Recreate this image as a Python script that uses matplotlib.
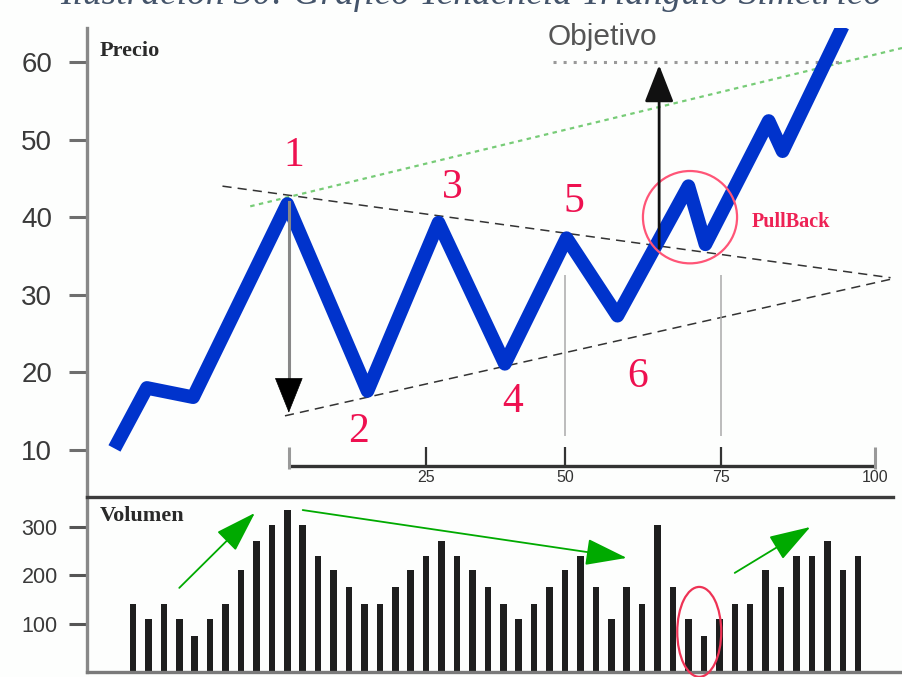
import matplotlib.pyplot as plt
from matplotlib.patches import Ellipse

# precio: sesion (mismas unidades que las barras de volumen) y valor
price_t = [-0.2, 1.9, 4.9, 11.0, 16.2, 20.8, 25.1, 29.1, 32.4, 37.0, 38.1, 42.2, 43.1, 47.0]
price = [10.2, 18.0, 16.8, 41.7, 17.6, 39.3, 21.1, 37.3, 27.3, 44.0, 36.5, 52.4, 48.5, 64.6]

# volumen por sesion
volume = [140, 110, 140, 110, 75, 110, 140, 210, 270, 305, 335, 305, 240, 210, 175,
          140, 140, 175, 210, 240, 270, 240, 210, 175, 140, 110, 140, 175, 210, 240,
          175, 110, 175, 140, 305, 175, 110, 75, 110, 140, 140, 210, 175, 240, 240,
          270, 210, 240]
sessions = list(range(1, len(volume) + 1))

price_ticks = [10, 20, 30, 40, 50, 60]
volume_ticks = [100, 200, 300]
inner_ticks = [20.0, 29.0, 39.1, 49.1]
inner_labels = ['25', '50', '75', '100']

# puntos numerados del triangulo
point_labels = ['1', '2', '3', '4', '5', '6']
point_t = [11.4, 15.6, 21.7, 25.6, 29.6, 33.7]
point_p = [47.9, 12.3, 43.8, 16.2, 42.0, 19.4]

sans = ['Liberation Sans', 'DejaVu Sans']
serif = ['Liberation Serif', 'DejaVu Serif']
red = '#ee1150'

W, H = 902, 677
fig = plt.figure(figsize=(W / 100, H / 100), dpi=100)
fig.patch.set_facecolor('#fdfefd')

ax = fig.add_axes([87 / W, 1 - 497 / H, 815 / W, 469 / H])
axv = fig.add_axes([87 / W, 5 / H, 815 / W, 175 / H])
for a in (ax, axv):
    a.set_facecolor('none')
    a.set_xlim(-1.98, 50.84)
    for s in ('top', 'right', 'bottom'):
        a.spines[s].set_visible(False)
    a.spines['left'].set_color('#888888')
    a.spines['left'].set_linewidth(2.4)
    a.set_xticks([])

# ---- panel de precio ----
ax.set_ylim(3.94, 64.38)
ax.set_yticks(price_ticks)
ax.set_yticklabels([str(v) for v in price_ticks], family=sans, fontsize=20, color='#3a3a3a')
ax.tick_params(axis='y', length=13, width=2.2, color='#6e6e6e', pad=12)

# lineas de tendencia
ax.plot([6.8, 50.1], [44.0, 32.2], color='#333333', lw=1.1, dashes=(6, 4), zorder=2)
ax.plot([10.85, 50.1], [14.4, 32.0], color='#333333', lw=1.1, dashes=(6, 4), zorder=2)
ax.plot([8.6, 50.84], [41.4, 61.8], color='#77cc77', lw=1.6, dashes=(2, 2), zorder=2)
# objetivo
ax.plot([28.2, 47.1], [60, 60], color='#999999', lw=2.2, dashes=(1, 2.3), zorder=2)
ax.text(27.9, 63.2, 'Objetivo', family=sans, fontsize=21.5, color='#555555',
        ha='left', va='center')

# verticales grises
ax.vlines([29.0, 39.1], 11.8, 32.5, color='#aaaaaa', lw=1.1, zorder=2)

# eje interno de tiempo
ax.plot([11.1, 49.1], [7.94, 7.94], color='#333333', lw=2.4, solid_capstyle='butt', zorder=2)
ax.vlines([11.1], 7.6, 10.4, color='#999999', lw=2.2, zorder=2)
ax.vlines(inner_ticks[:-1], 7.94, 10.4, color='#333333', lw=1.6, zorder=2)
ax.vlines(inner_ticks[-1:], 7.6, 10.4, color='#999999', lw=2.2, zorder=2)
for t, lab in zip(inner_ticks, inner_labels):
    ax.text(t, 6.4, lab, family=sans, fontsize=11.5, color='#333333',
            ha='center', va='center')

# precio
ax.plot(price_t, price, color='#0033cc', lw=9.8, solid_joinstyle='round',
        solid_capstyle='butt', zorder=3)

for lab, t, p in zip(point_labels, point_t, point_p):
    ax.text(t, p, lab, family=serif, fontsize=30, color=red, ha='center', va='center')

ax.add_patch(Ellipse((37.1, 40.0), 6.1, 11.9, fill=False, edgecolor='#ff5577', lw=1.6, zorder=4))
ax.text(41.1, 39.4, 'PullBack', family=serif, fontsize=14.5, fontweight='bold',
        color='#ee2255', ha='left', va='center')

# flechas
ax.plot([11.1, 11.1], [42.0, 19.0], color='#888888', lw=2.2, zorder=5)
ax.annotate('', xy=(11.1, 14.8), xytext=(11.1, 19.2),
            arrowprops=dict(arrowstyle='-|>,head_length=1.2,head_width=0.48',
                            mutation_scale=20, color='black', lw=0.5, shrinkA=0, shrinkB=0),
            zorder=5)
ax.annotate('', xy=(35.1, 59.6), xytext=(35.1, 36.0),
            arrowprops=dict(arrowstyle='-|>,head_length=1.15,head_width=0.45',
                            mutation_scale=20, color='#111111', lw=2.0, shrinkA=0, shrinkB=0),
            zorder=5)

ax.text(-1.14, 61.4, 'Precio', family=serif, fontsize=16, fontweight='bold',
        color='#2a2a2a', ha='left', va='center')

# ---- panel de volumen ----
axv.set_ylim(0, 362)
axv.bar(sessions, volume, width=0.42, color='#1e1e1e', zorder=2)
axv.set_yticks(volume_ticks)
axv.set_yticklabels([str(v) for v in volume_ticks], family=sans, fontsize=15.5, color='#3a3a3a')
axv.tick_params(axis='y', length=13, width=2.2, color='#555555', pad=8)
axv.spines['bottom'].set_visible(True)
axv.spines['bottom'].set_color('#7a7a7a')
axv.spines['bottom'].set_linewidth(2.4)
axv.spines['top'].set_visible(True)
axv.spines['top'].set_color('#3c3c3c')
axv.spines['top'].set_linewidth(2.4)
axv.spines['top'].set_bounds(-1.98, 50.25)

axv.text(-1.14, 323, 'Volumen', family=serif, fontsize=16, fontweight='bold',
         color='#2a2a2a', ha='left', va='center')

green = dict(arrowstyle='-|>,head_length=1.3,head_width=0.42', mutation_scale=20,
             color='#00aa00', lw=1.3, shrinkA=0, shrinkB=0)
axv.annotate('', xy=(8.9, 329), xytext=(4.0, 174), arrowprops=green)
axv.annotate('', xy=(33.0, 236), xytext=(12.0, 335), arrowprops=green)
axv.annotate('', xy=(44.9, 300), xytext=(40.0, 205), arrowprops=green)

axv.add_patch(Ellipse((37.7, 83), 2.85, 186, fill=False, edgecolor='#ee3355',
                      lw=1.6, zorder=4, clip_on=False))

# titulo cortado arriba
fig.text(60 / W, 1 - 4 / H, 'Ilustración 30: Gráfico Tendencia Triángulo Simétrico',
         family=serif, style='italic', fontsize=27, color='#44546a',
         ha='left', va='baseline')

fig.savefig('out.png', dpi=100, facecolor=fig.get_facecolor())
